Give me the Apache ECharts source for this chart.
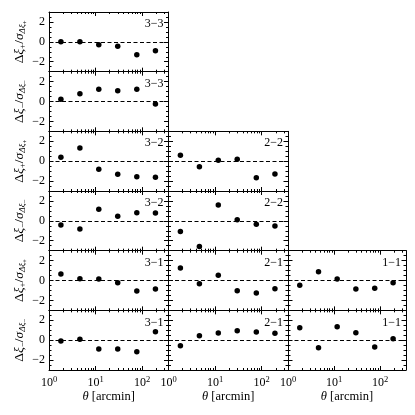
<!DOCTYPE html>
<html>
<head>
<meta charset="utf-8">
<script src="https://cdn.jsdelivr.net/npm/echarts@6/dist/echarts.min.js"></script>
<style>
html, body { margin: 0; padding: 0; background: #fff; }
#main { width: 415px; height: 415px; }
</style>
</head>
<body>
<div id="main"></div>
<script>
// angular bins [arcmin]
var theta = [1.8, 4.6, 11.7, 29.8, 76.5, 192];

// residuals, in units of sigma, per tomographic pair
var xip_33 = [0.0, 0.02, -0.3, -0.45, -1.3, -0.9];
var xim_33 = [0.22, 0.78, 1.23, 1.09, 1.23, -0.25];
var xip_32 = [0.39, 1.33, -0.81, -1.32, -1.56, -1.62];
var xim_32 = [-0.41, -0.81, 1.17, 0.46, 0.82, 0.79];
var xip_31 = [0.65, 0.18, 0.15, -0.22, -1.06, -0.85];
var xim_31 = [-0.08, 0.09, -0.88, -0.88, -1.16, 0.85];
var xip_22 = [0.59, -0.55, 0.09, 0.19, -1.66, -1.29];
var xim_22 = [-1.08, -2.59, 1.6, 0.12, -0.34, -0.51];
var xip_21 = [1.26, -0.32, 0.52, -1.02, -1.26, -0.82];
var xim_21 = [-0.55, 0.45, 0.72, 0.96, 0.83, 0.69];
var xip_11 = [-0.48, 0.88, 0.15, -0.85, -0.79, -0.22];
var xim_11 = [1.26, -0.75, 1.36, 0.75, -0.68, 0.15];

var yMajor = [-2, 0, 2];

// col, row, label, + or -, values
var panels = [
    [0, 0, '3\u22123', '+', xip_33],
    [0, 1, '3\u22123', '-', xim_33],
    [0, 2, '3\u22122', '+', xip_32],
    [0, 3, '3\u22122', '-', xim_32],
    [0, 4, '3\u22121', '+', xip_31],
    [0, 5, '3\u22121', '-', xim_31],
    [1, 2, '2\u22122', '+', xip_22],
    [1, 3, '2\u22122', '-', xim_22],
    [1, 4, '2\u22121', '+', xip_21],
    [1, 5, '2\u22121', '-', xim_21],
    [2, 4, '1\u22121', '+', xip_11],
    [2, 5, '1\u22121', '-', xim_11]
];

var FONT = 'Liberation Serif';
var colLeft = [49, 168.5, 288];
var colW = [119.5, 119.5, 118];
var rowTop = 12, rowH = 59.67;

var grids = [], xAxes = [], yAxes = [], series = [], texts = [];

function fmtY(v) {
    if (yMajor.indexOf(v) < 0) return '';
    return v < 0 ? '\u2212' + Math.abs(v) : '' + v;
}

function fmtX(v) {
    var e = Math.log(v) / Math.LN10;
    if (Math.abs(e - Math.round(e)) > 0.01) return '';
    return '10{s|' + Math.round(e) + '}';
}

panels.forEach(function (p, gi) {
    var col = p[0], row = p[1];
    var left = colLeft[col], top = rowTop + row * rowH;
    var bottomRow = row === 5;
    grids.push({ left: left, top: top, width: colW[col], height: rowH });

    ['bottom', 'top'].forEach(function (pos) {
        xAxes.push({
            type: 'log', logBase: 10, gridIndex: gi, position: pos,
            min: 1, max: 366,
            axisLine: { show: true, onZero: false, lineStyle: { color: '#000', width: 1 } },
            axisTick: { show: true, inside: true, length: 4, lineStyle: { color: '#000' } },
            minorTick: { show: true, splitNumber: 9, length: 2, lineStyle: { color: '#000' } },
            splitLine: { show: false },
            axisLabel: {
                show: bottomRow && pos === 'bottom',
                formatter: fmtX, margin: 5, color: '#000',
                fontFamily: FONT, fontSize: 12,
                rich: { s: { fontFamily: FONT, fontSize: 8.5, padding: [0, 0, 7, 0], color: '#000' } }
            },
            name: bottomRow && pos === 'bottom' ? '{i|\u03b8} [arcmin]' : '',
            nameLocation: 'middle', nameGap: 20,
            nameTextStyle: {
                fontFamily: FONT, fontSize: 12.5, color: '#000',
                rich: { i: { fontFamily: FONT, fontSize: 12.5, fontStyle: 'italic', color: '#000' } }
            }
        });
    });

    var sign = p[3] === '+' ? '+' : '\u2212';
    ['left', 'right'].forEach(function (pos) {
        var withLabel = col === 0 && pos === 'left';
        yAxes.push({
            type: 'value', gridIndex: gi, position: pos,
            min: -3, max: 3, interval: 0.5,
            axisLine: { show: true, onZero: false, lineStyle: { color: '#000', width: 1 } },
            axisTick: { show: true, inside: true, length: 2.5, lineStyle: { color: '#000' } },
            splitLine: { show: false },
            axisLabel: {
                show: withLabel, formatter: fmtY, margin: 4, color: '#000',
                fontFamily: FONT, fontSize: 12
            },
            name: withLabel ? '{a|\u0394}{i|\u03be}{b|' + sign + '}{a|/}{i|\u03c3}{c|\u0394\u03be}{d|' + sign + '}' : '',
            nameLocation: 'middle', nameRotate: 90, nameGap: 18,
            nameTextStyle: {
                color: '#000',
                rich: {
                    a: { fontFamily: FONT, fontSize: 13.5, color: '#000' },
                    i: { fontFamily: FONT, fontSize: 13.5, fontStyle: 'italic', color: '#000' },
                    b: { fontFamily: FONT, fontSize: 9, padding: [7, 0, 0, 0], color: '#000' },
                    c: { fontFamily: FONT, fontSize: 9, fontStyle: 'italic', padding: [7, 0, 0, 0], color: '#000' },
                    d: { fontFamily: FONT, fontSize: 7, padding: [11, 0, 0, 0], color: '#000' }
                }
            }
        });
        yAxes.push({
            type: 'value', gridIndex: gi, position: pos,
            min: -3, max: 3,
            axisLine: { show: false },
            axisTick: { show: true, inside: true, length: 4.5, customValues: yMajor, lineStyle: { color: '#000' } },
            axisLabel: { show: false },
            splitLine: { show: false }
        });
    });

    series.push({
        type: 'scatter', xAxisIndex: 2 * gi, yAxisIndex: 4 * gi,
        data: theta.map(function (t, i) { return [t, p[4][i]]; }),
        symbolSize: 5.5,
        itemStyle: { color: '#000', opacity: 1 },
        markLine: {
            silent: true, symbol: 'none', animation: false,
            label: { show: false },
            lineStyle: { color: '#000', width: 1, type: [4, 2.5] },
            data: [{ yAxis: 0 }]
        }
    });

    texts.push({
        type: 'text', x: left + colW[col] - 5, y: top + 12,
        style: {
            text: p[2], align: 'right', verticalAlign: 'middle',
            font: '12px "' + FONT + '"', fill: '#000'
        }
    });
});

var chart = echarts.init(document.getElementById('main'));
chart.setOption({
    animation: false,
    grid: grids,
    xAxis: xAxes,
    yAxis: yAxes,
    series: series,
    graphic: texts
});
</script>
</body>
</html>
